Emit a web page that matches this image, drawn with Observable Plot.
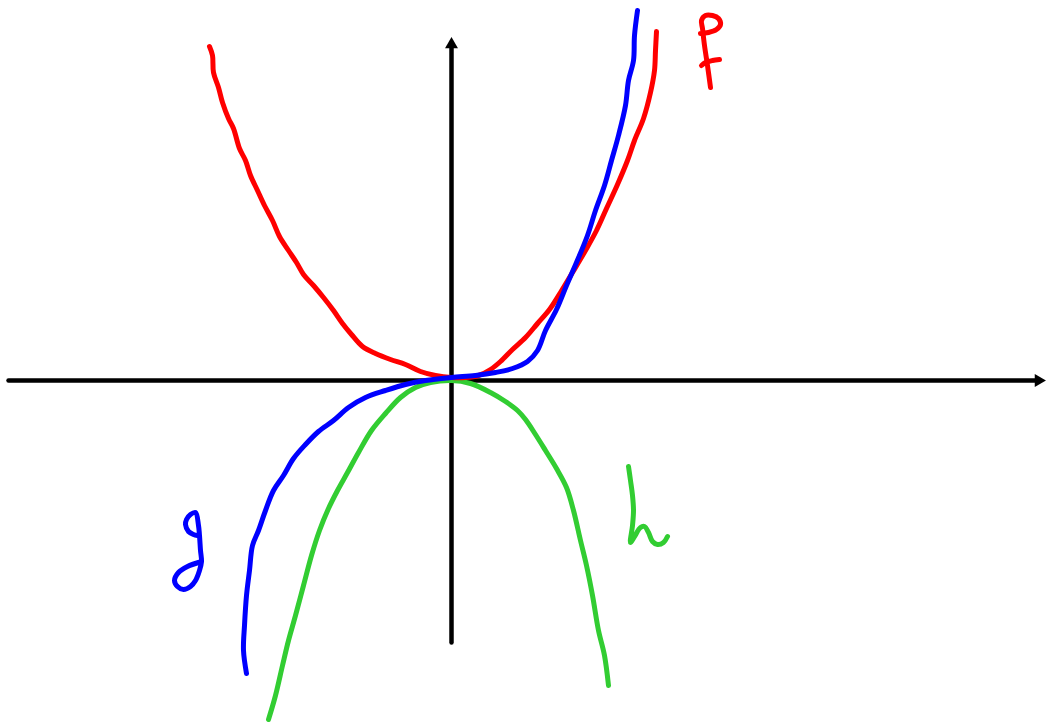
<!DOCTYPE html>
<html>
<head>
<meta charset="utf-8">
<style>html,body{margin:0;padding:0;background:#fff}svg{display:block}</style>
<script src="https://cdn.jsdelivr.net/npm/d3@7"></script>
<script src="https://cdn.jsdelivr.net/npm/@observablehq/plot@0.6"></script>
</head>
<body>
<div id="chart"></div>
<script>
const fX = [-242,-239,-238,-233,-229,-223,-218,-212,-206,-201,-194,-187,-179,-172,-163,-155,-148,-138,-128,-118,-109,-100,-89,-76,-61,-46,-31,-16,0,14,27,39,49,61,74,86,98,109,121,134,145,155,166,176,183,192,199,203,204,205];
const fY = [334,325,308,293,278,262,252,232,220,205,190,175,160,144,130,118,106,95,83,70,57,46,34,27,21,16,9,5,3,3,5,11,19,31,43,57,71,88,108,130,150,172,196,220,240,262,288,310,330,349];
const gX = [-205,-208,-207,-205,-202,-199,-193,-186,-178,-168,-158,-146,-133,-118,-103,-86,-66,-46,-26,0,24,44,61,76,86,94,105,115,125,136,144,153,160,167,174,177,182,183,186];
const gY = [-293,-270,-245,-215,-190,-165,-150,-130,-110,-95,-78,-64,-51,-40,-27,-17,-10,-4,0,3,5,8,12,19,30,50,71,95,118,145,170,195,220,245,275,300,320,345,370];
const hX = [-183,-176,-169,-163,-156,-148,-140,-132,-123,-114,-104,-93,-80,-66,-51,-36,-21,0,19,39,54,66,74,84,94,105,115,122,129,135,141,147,153,157];
const hY = [-339,-315,-285,-260,-235,-205,-175,-150,-128,-110,-92,-72,-50,-33,-17,-7,-2,0,-3,-12,-21,-30,-39,-54,-70,-88,-107,-130,-160,-185,-215,-250,-275,-305];

const letterFX = [249,257,265,269,267,261,254,250,251,253,256,259];
const letterFY = [347,348,351,356,362,365,365,360,352,335,315,293];
const letterFBarX = [250,254,261,268];
const letterFBarY = [315,318,320,321];
const letterGX = [-254,-258,-263,-266,-265,-261,-256,-253,-252,-251,-250,-252,-256,-261,-268,-274,-277,-273,-264,-250];
const letterGY = [-155,-154,-151,-144,-139,-134,-132,-145,-155,-170,-181,-190,-200,-206,-209,-206,-200,-192,-186,-181];
const letterHX = [177,179,181,182,181,179,183,189,193,197,201,206,212,216];
const letterHY = [-86,-100,-115,-130,-145,-162,-156,-147,-146,-152,-161,-164,-162,-156];

const axisXX = [-443,587];
const axisXY = [0,0];
const axisYX = [0,0];
const axisYY = [-262,336];
const tipX = [587];
const tipY = [336];

const RED = "#ff0000", BLUE = "#0000ff", GREEN = "#32cd32", BLACK = "#000000";
const stroke = (xs, ys, color, width = 5) => Plot.line(xs, {
  x: xs, y: ys, stroke: color, strokeWidth: width,
  curve: "catmull-rom", strokeLinecap: "round", strokeLinejoin: "round"
});

const chart = Plot.plot({
  width: 1048, height: 722,
  marginTop: 0, marginRight: 0, marginBottom: 0, marginLeft: 0,
  x: {domain: [-451, 597], range: [0, 1048], axis: null},
  y: {domain: [-342, 380], range: [722, 0], axis: null},
  style: {background: "#fff"},
  marks: [
    Plot.line(axisXX, {x: axisXX, y: axisXY, stroke: BLACK, strokeWidth: 4.5}),
    Plot.line(axisYY, {x: axisYX, y: axisYY, stroke: BLACK, strokeWidth: 4.5}),
    Plot.dot(tipX, {x: tipX, y: [0], symbol: "triangle", r: 4.8, rotate: 90, fill: BLACK, stroke: "none"}),
    Plot.dot(tipY, {x: [0], y: tipY, symbol: "triangle", r: 4.8, rotate: 0, fill: BLACK, stroke: "none"}),
    stroke(hX, hY, GREEN),
    stroke(fX, fY, RED),
    stroke(gX, gY, BLUE),
    stroke(letterFX, letterFY, RED),
    stroke(letterFBarX, letterFBarY, RED),
    stroke(letterGX, letterGY, BLUE),
    stroke(letterHX, letterHY, GREEN)
  ]
});
document.getElementById("chart").append(chart);
</script>
</body>
</html>
